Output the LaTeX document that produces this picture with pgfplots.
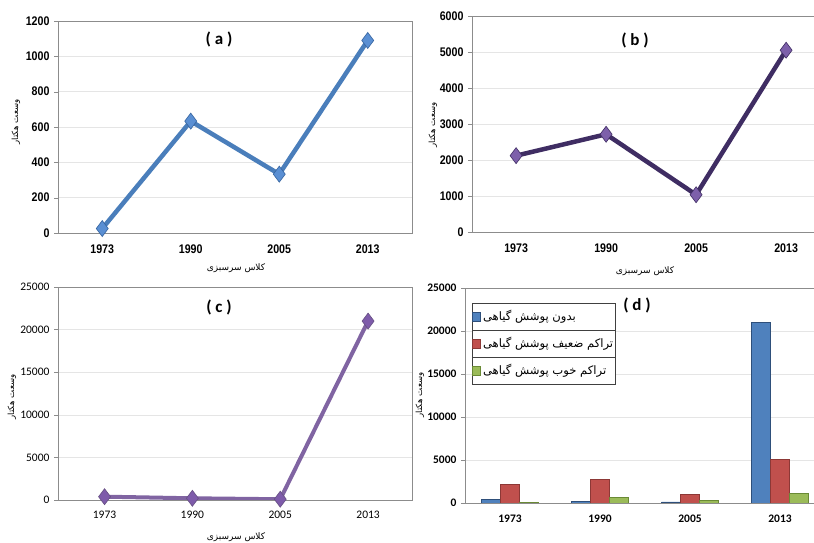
\documentclass[border=0pt]{standalone}
\usepackage{fontspec}
\setmainfont{Liberation Sans}
\newfontfamily\narrowbold[FakeStretch=0.85]{Liberation Sans Bold}
\newfontfamily\calibri{Carlito}
\newfontfamily\calibrib{Carlito Bold}
\newfontfamily\arabicfont[Script=Arabic]{DejaVu Sans}
\TeXXeTstate=1
\usepackage{pgfplots}
\pgfplotsset{compat=1.18}
\usetikzlibrary{calc}

\definecolor{lineA}{HTML}{4A7EBB}
\definecolor{markA}{HTML}{5A8FD3}
\definecolor{markAd}{HTML}{35639E}
\definecolor{lineB}{HTML}{3F2D63}
\definecolor{markB}{HTML}{7D60AA}
\definecolor{lineC}{HTML}{8064A2}
\definecolor{markC}{HTML}{7E5BAA}
\definecolor{barB}{HTML}{4F81BD}
\definecolor{barBd}{HTML}{2E4F7A}
\definecolor{barR}{HTML}{C0504D}
\definecolor{barRd}{HTML}{8C3836}
\definecolor{barG}{HTML}{9BBB59}
\definecolor{barGd}{HTML}{6A8A35}

\pgfplotsset{
  panel/.style={
    scale only axis,
    xmin=-0.5, xmax=3.5, ymin=0,
    xtick={0,1,2,3}, xticklabels={1973,1990,2005,2013},
    axis line style={draw=black!45},
    ymajorgrids, grid style={draw=black!10},
    tick align=outside, major tick length=4pt,
    xtick style={draw=none}, ytick style={draw=black!45},
    ytick pos=left, xtick pos=bottom,
    scaled y ticks=false,
    /pgf/number format/1000 sep={},
    /pgf/number format/assume math mode=true,
    xticklabel style={yshift=-4pt},
    yticklabel style={xshift=-1pt},
  },
  boldticks/.style={ticklabel style={font=\narrowbold\fontsize{12.5}{13}\selectfont}},
}

\begin{document}
\begin{tikzpicture}[x=1pt,y=1pt]
\path[use as bounding box] (0,0) rectangle (814,543);

% (a)
\begin{axis}[panel, boldticks, at={(58pt,310pt)}, anchor=south west,
  width=354pt, height=212pt, ymax=1200, ytick={0,200,...,1200}]
\addplot[lineA, line width=4.5pt, mark=diamond*, mark size=8pt,
  mark options={fill=markA, draw=markAd, line width=0.6pt}]
  coordinates {(0,25) (1,633) (2,333) (3,1090)};
\end{axis}

% (b)
\begin{axis}[panel, boldticks, at={(472pt,311pt)}, anchor=south west,
  width=360pt, height=216pt, xmin=-0.49, xmax=3.51, ymax=6000, ytick={0,1000,...,6000}]
\addplot[lineB, line width=4.5pt, mark=diamond*, mark size=8pt,
  mark options={fill=markB, draw=lineB, line width=0.6pt}]
  coordinates {(0,2120) (1,2715) (2,1035) (3,5050)};
\end{axis}

% (c)
\begin{axis}[panel, at={(58pt,43pt)}, anchor=south west,
  width=354pt, height=213pt, xmin=-0.53, xmax=3.5, ymax=25000, ytick={0,5000,...,25000},
  ticklabel style={font=\calibri\fontsize{11.5}{12}\selectfont}]
\addplot[lineC, line width=4pt, mark=diamond*, mark size=8pt,
  mark options={fill=markC, draw=lineC!80!black, line width=0.6pt}]
  coordinates {(0,390) (1,200) (2,90) (3,21000)};
\end{axis}

% (d)
\begin{axis}[panel, at={(465pt,40pt)}, anchor=south west,
  width=360pt, height=215pt, ymax=25000, ytick={0,5000,...,25000},
  ticklabel style={font=\calibrib\fontsize{11.5}{12}\selectfont},
  ybar=0pt, bar width=19pt,
  legend cell align=left,
  legend style={name=L, at={(axis description cs:0.02,0.93)}, anchor=north west,
    draw=black!75, line width=0.6pt, fill=white, inner sep=0pt, outer sep=0pt, row sep=0pt,
    nodes={minimum height=27pt, inner sep=2pt, font=\arabicfont\fontsize{11.6}{12}\selectfont}},
  legend image code/.code={\draw[#1, line width=0.8pt] (0pt,-4.5pt) rectangle (8pt,4.5pt);},
]
\addplot[fill=barB, draw=barBd, line width=0.8pt] coordinates {(0,400) (1,180) (2,120) (3,21000)};
\addplot[fill=barR, draw=barRd, line width=0.8pt] coordinates {(0,2120) (1,2715) (2,1035) (3,5050)};
\addplot[fill=barG, draw=barGd, line width=0.8pt] coordinates {(0,30) (1,633) (2,333) (3,1090)};
\legend{\beginR بدون پوشش گیاهی\endR, \beginR تراکم ضعیف پوشش گیاهی\endR, \beginR تراکم خوب پوشش گیاهی\endR}
\end{axis}
\draw[black!75, line width=0.6pt] ($(L.north west)!1/3!(L.south west)$) -- ($(L.north east)!1/3!(L.south east)$);
\draw[black!75, line width=0.6pt] ($(L.north west)!2/3!(L.south west)$) -- ($(L.north east)!2/3!(L.south east)$);

% panel labels
\node[font=\calibrib\fontsize{17}{18}\selectfont] at (219,504) {( a )};
\node[font=\calibrib\fontsize{17}{18}\selectfont] at (635,503) {( b )};
\node[font=\calibrib\fontsize{17}{18}\selectfont] at (219,236) {( c )};
\node[font=\calibrib\fontsize{17}{18}\selectfont] at (637,238) {( d )};

% axis titles
\node[rotate=90, font=\arabicfont\fontsize{8.5}{9}\selectfont] at (16,421) {\beginR وسعت هکتار\endR};
\node[rotate=90, font=\arabicfont\fontsize{8.5}{9}\selectfont] at (433,418) {\beginR وسعت هکتار\endR};
\node[rotate=90, font=\arabicfont\fontsize{8.5}{9}\selectfont] at (12,146) {\beginR وسعت هکتار\endR};
\node[rotate=90, font=\arabicfont\fontsize{8.5}{9}\selectfont] at (420,148) {\beginR وسعت هکتار\endR};
\node[font=\arabicfont\fontsize{9}{10}\selectfont] at (236,275) {\beginR کلاس سرسبزی\endR};
\node[font=\arabicfont\fontsize{9}{10}\selectfont] at (645,272) {\beginR کلاس سرسبزی\endR};
\node[font=\arabicfont\fontsize{9}{10}\selectfont] at (236,6) {\beginR کلاس سرسبزی\endR};
\end{tikzpicture}
\end{document}
